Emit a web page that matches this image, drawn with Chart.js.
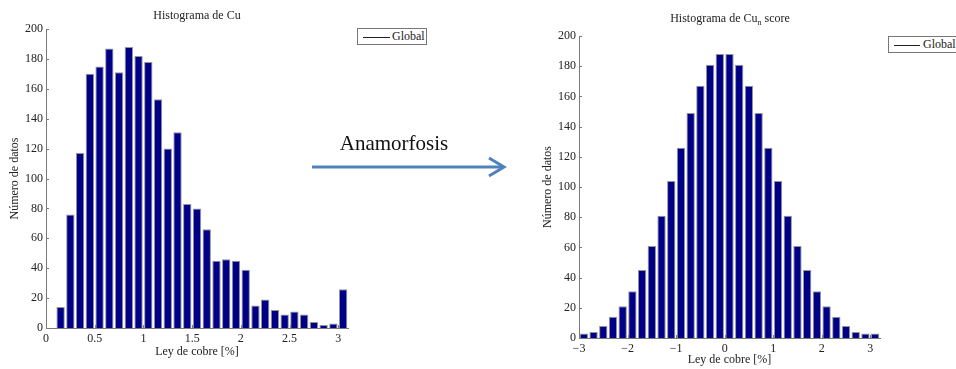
<!DOCTYPE html>
<html>
<head>
<meta charset="utf-8">
<script src="https://cdn.jsdelivr.net/npm/chart.js@4/dist/chart.umd.min.js"></script>
<style>
  html, body { margin:0; padding:0; background:#fff; }
  body { width:956px; height:369px; position:relative; overflow:hidden; font-family:"Liberation Serif", serif; color:#222; }
  .cv { position:absolute; }
  .title { position:absolute; font-size:12px; white-space:nowrap; transform:translate(-50%,-50%); color:#222; }
  .title sub { font-size:8px; vertical-align:-3px; line-height:0; }
  .legend { position:absolute; border:1px solid #777; background:#fff; font-size:12px; box-sizing:border-box; white-space:nowrap; overflow:hidden; }
  .legend .ln { position:absolute; top:50%; height:1px; background:#222; }
  .legend .tx { position:absolute; top:50%; transform:translateY(-52%); }
  .anam { position:absolute; font-size:21px; left:394px; top:143px; transform:translate(-50%,-50%); color:#111; white-space:nowrap; }
</style>
</head>
<body>
<div class="cv" style="left:0;top:0;width:460px;height:369px;"><canvas id="c1" width="460" height="369"></canvas></div>
<div class="cv" style="left:530px;top:0;width:426px;height:369px;"><canvas id="c2" width="426" height="369"></canvas></div>

<div class="title" style="left:197px;top:15px;">Histograma de Cu</div>
<div class="title" style="left:730px;top:18px;">Histograma de Cu<sub>n</sub> score</div>

<div class="legend" style="left:357px;top:28px;width:70px;height:17px;">
  <div class="ln" style="left:5px;width:27px;"></div>
  <div class="tx" style="left:34px;">Global</div>
</div>
<div class="legend" style="left:888px;top:36px;width:72px;height:17px;">
  <div class="ln" style="left:5px;width:26px;"></div>
  <div class="tx" style="left:34px;">Global</div>
</div>

<div class="anam">Anamorfosis</div>
<svg style="position:absolute;left:0;top:0;" width="956" height="369">
  <line x1="312" y1="167" x2="503" y2="167" stroke="#4f81bd" stroke-width="3"/>
  <polyline points="489,158 504,167 489,176" fill="none" stroke="#4f81bd" stroke-width="3" stroke-linejoin="miter"/>
</svg>

<script>
// ---- Data ----
const leftBins = [0.15,0.25,0.35,0.45,0.55,0.65,0.75,0.85,0.95,1.05,1.15,1.25,1.35,1.45,1.55,1.65,1.75,1.85,1.95,2.05,2.15,2.25,2.35,2.45,2.55,2.65,2.75,2.85,2.95,3.05];
const leftCounts = [14,76,117,170,175,187,171,188,182,178,153,120,131,83,80,66,45,46,45,39,15,19,12,9,11,9,4,2,3,26];
const leftXTicks = [0,0.5,1,1.5,2,2.5,3];
const leftXLabels = ["0","0.5","1","1.5","2","2.5","3"];

const rightBins = [-2.9,-2.7,-2.5,-2.3,-2.1,-1.9,-1.7,-1.5,-1.3,-1.1,-0.9,-0.7,-0.5,-0.3,-0.1,0.1,0.3,0.5,0.7,0.9,1.1,1.3,1.5,1.7,1.9,2.1,2.3,2.5,2.7,2.9,3.1];
const rightCounts = [3,4,8,14,21,31,45,61,81,104,126,149,167,181,188,188,181,167,149,126,104,81,61,45,31,21,14,8,4,3,3];
const rightXTicks = [-3,-2,-1,0,1,2,3];
const rightXLabels = ["\u22123","\u22122","\u22121","0","1","2","3"];

const yTicks = [0,20,40,60,80,100,120,140,160,180,200];

const barFill = "rgb(0,0,135)";
const barEdge = "rgb(150,150,150)";
const axisColor = "#7a7a7a";

const innerTicks = {
  id: 'innerTicks',
  beforeDatasetsDraw(chart) {
    const ctx = chart.ctx, a = chart.chartArea;
    ctx.save();
    ctx.strokeStyle = axisColor;
    ctx.lineWidth = 1;
    chart.scales.y.ticks.forEach(t => {
      const p = Math.round(chart.scales.y.getPixelForValue(t.value)) + 0.5;
      ctx.beginPath(); ctx.moveTo(a.left, p); ctx.lineTo(a.left + 3, p); ctx.stroke();
    });
    chart.scales.x.ticks.forEach(t => {
      const p = Math.round(chart.scales.x.getPixelForValue(t.value)) + 0.5;
      ctx.beginPath(); ctx.moveTo(p, a.bottom); ctx.lineTo(p, a.bottom - 3); ctx.stroke();
    });
    ctx.restore();
  }
};

function makeChart(id, bins, counts, xmin, xmax, xTicks, xLabels, cfg) {
  const font = { family: "Liberation Serif", size: cfg.fontSize };
  return new Chart(document.getElementById(id), {
    type: 'bar',
    data: {
      datasets: [{
        data: bins.map((x, i) => ({ x: x, y: counts[i] })),
        backgroundColor: barFill,
        borderColor: barEdge,
        borderWidth: 1,
        barPercentage: 0.86,
        categoryPercentage: 1.0
      }]
    },
    options: {
      responsive: false,
      animation: false,
      events: [],
      layout: { padding: { left: 0, right: cfg.padRight, top: cfg.padTop, bottom: 0 } },
      plugins: { legend: { display: false }, title: { display: false }, tooltip: { enabled: false } },
      scales: {
        x: {
          type: 'linear', min: xmin, max: xmax, offset: false,
          grid: { display: false, drawTicks: false },
          border: { display: true, color: axisColor, width: 1 },
          afterBuildTicks: s => { s.ticks = xTicks.map(v => ({ value: v })); },
          afterFit: s => { s.height = cfg.xHeight; },
          ticks: {
            autoSkip: false, maxRotation: 0, padding: 4, color: '#222', font: font,
            callback: (v) => { const i = xTicks.indexOf(v); return i >= 0 ? xLabels[i] : ''; }
          },
          title: { display: true, text: 'Ley de cobre [%]', color: '#222', font: { family: "Liberation Serif", size: 12 }, padding: { top: 0, bottom: cfg.xTitlePad } }
        },
        y: {
          type: 'linear', min: 0, max: 200,
          grid: { display: false, drawTicks: false },
          border: { display: true, color: axisColor, width: 1 },
          afterBuildTicks: s => { s.ticks = yTicks.map(v => ({ value: v })); },
          afterFit: s => { s.width = cfg.yWidth; },
          ticks: { padding: 3, color: '#222', font: font },
          title: { display: true, text: 'Número de datos', color: '#222', font: { family: "Liberation Serif", size: 12 }, padding: { top: cfg.yTitlePad, bottom: 0 } }
        }
      }
    },
    plugins: [innerTicks]
  });
}

makeChart('c1', leftBins, leftCounts, 0, 3.1, leftXTicks, leftXLabels,
  { fontSize: 12, padRight: 112, padTop: 29, xHeight: 41, yWidth: 46, xTitlePad: 10, yTitlePad: 8 });
makeChart('c2', rightBins, rightCounts, -3, 3.2, rightXTicks, rightXLabels,
  { fontSize: 12, padRight: 76, padTop: 36, xHeight: 31, yWidth: 49, xTitlePad: 2, yTitlePad: 11 });
</script>
</body>
</html>
